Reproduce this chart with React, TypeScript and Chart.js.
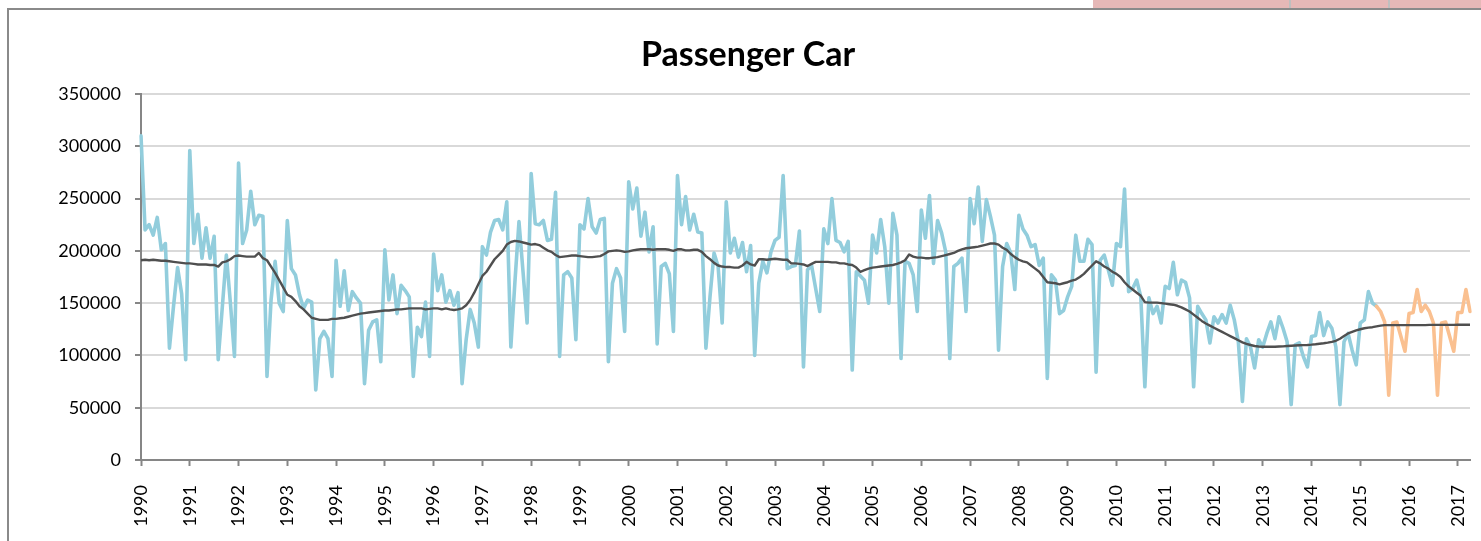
import React, { useEffect, useRef } from "react";
import { Chart, registerables } from "chart.js";

Chart.register(...registerables);

const chartTitle = "Passenger Car";

const yearLabels = [
  "1990", "1991", "1992", "1993", "1994", "1995", "1996", "1997", "1998", "1999",
  "2000", "2001", "2002", "2003", "2004", "2005", "2006", "2007", "2008", "2009",
  "2010", "2011", "2012", "2013", "2014", "2015", "2016", "2017",
];
const monthCodes = ["01", "02", "03", "04", "05", "06", "07", "08", "09", "10", "11", "12"];
const monthCount = 328; // Jan 1990 .. Apr 2017

const yTicks = [0, 50000, 100000, 150000, 200000, 250000, 300000, 350000];

// Monthly registrations (actual), Jan 1990 .. May 2015
const actualSales = [
  // 1990
  310000, 220000, 225000, 215000, 232000, 201000, 207000, 107000, 147000, 184000, 159000, 96000,
  // 1991
  296000, 207000, 235000, 193000, 222000, 193000, 214000, 96000, 146000, 196000, 150000, 99000,
  // 1992
  284000, 207000, 220000, 257000, 225000, 234000, 233000, 80000, 153000, 190000, 150000, 142000,
  // 1993
  229000, 183000, 177000, 158000, 145000, 153000, 151000, 67000, 116000, 123000, 116000, 80000,
  // 1994
  191000, 147000, 181000, 143000, 161000, 155000, 150000, 73000, 124000, 132000, 134000, 94000,
  // 1995
  201000, 153000, 177000, 140000, 167000, 162000, 156000, 80000, 127000, 118000, 151000, 99000,
  // 1996
  197000, 162000, 177000, 151000, 162000, 148000, 160000, 73000, 115000, 144000, 131000, 108000,
  // 1997
  204000, 196000, 218000, 229000, 230000, 220000, 247000, 108000, 170000, 228000, 180000, 131000,
  // 1998
  274000, 226000, 225000, 229000, 210000, 211000, 256000, 99000, 177000, 180000, 174000, 115000,
  // 1999
  225000, 221000, 250000, 223000, 217000, 230000, 231000, 94000, 169000, 183000, 174000, 123000,
  // 2000
  266000, 240000, 260000, 214000, 237000, 199000, 223000, 111000, 185000, 188000, 178000, 123000,
  // 2001
  272000, 225000, 252000, 220000, 235000, 218000, 217000, 107000, 156000, 198000, 185000, 131000,
  // 2002
  247000, 198000, 212000, 194000, 208000, 180000, 205000, 100000, 169000, 190000, 179000, 199000,
  // 2003
  210000, 213000, 272000, 183000, 185000, 186000, 219000, 89000, 182000, 186000, 164000, 142000,
  // 2004
  221000, 207000, 250000, 210000, 208000, 199000, 209000, 86000, 180000, 176000, 172000, 150000,
  // 2005
  215000, 198000, 230000, 204000, 150000, 236000, 215000, 97000, 190000, 188000, 177000, 142000,
  // 2006
  239000, 212000, 253000, 188000, 229000, 217000, 199000, 97000, 185000, 188000, 193000, 142000,
  // 2007
  250000, 226000, 261000, 209000, 249000, 233000, 215000, 105000, 185000, 207000, 198000, 163000,
  // 2008
  234000, 221000, 215000, 204000, 206000, 186000, 193000, 78000, 177000, 172000, 140000, 143000,
  // 2009
  156000, 166000, 215000, 190000, 190000, 211000, 206000, 84000, 191000, 196000, 182000, 167000,
  // 2010
  207000, 204000, 259000, 161000, 164000, 172000, 156000, 70000, 155000, 140000, 147000, 131000,
  // 2011
  166000, 164000, 189000, 158000, 172000, 170000, 155000, 70000, 147000, 140000, 134000, 112000,
  // 2012
  137000, 131000, 139000, 131000, 148000, 134000, 113000, 56000, 116000, 108000, 88000, 115000,
  // 2013
  108000, 121000, 132000, 116000, 137000, 126000, 113000, 53000, 110000, 112000, 99000, 89000,
  // 2014
  118000, 119000, 141000, 119000, 132000, 126000, 108000, 53000, 113000, 121000, 105000, 91000,
  // 2015
  131000, 134000, 161000, 150000, 147000,
];

// Forecast, May 2015 .. Apr 2017
const forecastStart = 304;
const forecastSales = [
  147000, 142000, 132000, 62000, 131000, 132000, 118000, 104000,
  140000, 141000, 163000, 142000, 148000, 142000, 131000, 62000, 131000, 132000, 118000, 104000,
  141000, 141000, 163000, 142000,
];

// 12-month trend, Jan 1990 .. Apr 2017
const trendLine = [
  // 1990
  191000, 191500, 191000, 191500, 191000, 190500, 190500, 190000, 189500, 189000, 188500, 188000,
  // 1991
  188000, 187500, 187000, 187000, 187000, 186500, 186500, 185000, 189000, 190000, 192000, 195000,
  // 1992
  195500, 195000, 194500, 194500, 194500, 198000, 193000, 191000, 185000, 179000, 172000, 165000,
  // 1993
  158000, 156000, 152000, 147000, 144000, 140000, 136000, 135000, 134000, 134000, 134000, 135000,
  // 1994
  135000, 135500, 136000, 137000, 138000, 139000, 140000, 140500, 141000, 141500, 142000, 142500,
  // 1995
  143000, 143000, 143500, 144000, 144000, 144500, 145000, 145000, 145000, 145000, 144000, 144500,
  // 1996
  145000, 145000, 144000, 145000, 144000, 143500, 144000, 145000, 148000, 153000, 160000, 168000,
  // 1997
  176000, 180000, 186000, 192000, 196000, 200000, 206000, 208500, 209500, 209000, 208000, 207000,
  // 1998
  206000, 206500, 205500, 203000, 200500, 199000, 196000, 194000, 194500, 195000, 195500, 195500,
  // 1999
  195000, 194500, 194000, 194000, 194500, 195000, 197000, 199500, 200000, 200500, 200000, 199000,
  // 2000
  199500, 200500, 201000, 201500, 201500, 201500, 201000, 201500, 201500, 201500, 201000, 200000,
  // 2001
  201500, 201500, 200500, 200500, 201000, 201000, 199000, 195000, 192000, 188500, 186000, 185000,
  // 2002
  184500, 184500, 184000, 184000, 186000, 189500, 187000, 186000, 192000, 192000, 191500, 192000,
  // 2003
  192500, 192000, 191500, 191500, 188000, 188000, 187500, 187000, 185500, 187500, 189500, 189500,
  // 2004
  189500, 189500, 189000, 189000, 188000, 188000, 187000, 186500, 184000, 180000, 181500, 183000,
  // 2005
  184000, 184500, 185000, 185500, 186000, 186500, 187500, 189000, 191000, 196500, 194500, 193500,
  // 2006
  193500, 193000, 193000, 193500, 194000, 195000, 196000, 197000, 198000, 200000, 201500, 202500,
  // 2007
  203000, 203500, 204000, 205000, 206000, 207000, 207000, 206000, 203000, 201000, 197000, 194000,
  // 2008
  191500, 190000, 189000, 186000, 183000, 180000, 175000, 170000, 169500, 169000, 168000, 169000,
  // 2009
  170000, 171500, 172500, 175000, 178000, 182000, 186000, 190000, 188000, 185000, 183000, 180000,
  // 2010
  178000, 175000, 170000, 166000, 163000, 160000, 157000, 151000, 150500, 150500, 150500, 150000,
  // 2011
  149500, 149000, 148500, 147500, 146000, 144000, 142000, 139000, 136000, 133000, 130500, 128500,
  // 2012
  126500, 124500, 122500, 120500, 118500, 116500, 114500, 112500, 111000, 110000, 109000, 108500,
  // 2013
  108300, 108300, 108300, 108300, 108500, 108700, 109000, 109300, 109500, 109700, 109900, 110000,
  // 2014
  110300, 110700, 111200, 111600, 112200, 113000, 114000, 116000, 118500, 121000, 122500, 124000,
  // 2015
  125000, 126000, 126600, 127000, 127800, 128500, 129000, 129000, 129000, 129000, 129000, 129000,
  // 2016
  129000, 129000, 129000, 129000, 129000, 129200, 129200, 129200, 129200, 129200, 129200, 129200,
  // 2017
  129300, 129300, 129300, 129300,
];

const W = 1481;
const H = 541;
const CW = 1496; // canvas is wider than the view so the title centres like the original frame
const PAD_SIDE = CW - 1470;

export default function App() {
  const canvasRef = useRef<HTMLCanvasElement | null>(null);

  useEffect(() => {
    document.body.style.margin = "0";
    document.body.style.overflow = "hidden";
    const canvas = canvasRef.current;
    if (!canvas) return;

    const categories = yearLabels
      .flatMap((y) => monthCodes.map((m) => `${y}-${m}`))
      .slice(0, monthCount);

    const actualData = categories.map((_, i) => (i < actualSales.length ? actualSales[i] : null));
    const forecastData = categories.map((_, i) =>
      i >= forecastStart && i - forecastStart < forecastSales.length ? forecastSales[i - forecastStart] : null
    );

    const chart = new Chart(canvas, {
      type: "line",
      data: {
        labels: categories,
        datasets: [
          {
            label: "Trend",
            data: trendLine,
            borderColor: "#4F4F4F",
            borderWidth: 2.4,
            pointRadius: 0,
            tension: 0,
            borderJoinStyle: "round",
            order: 0,
          },
          {
            label: "Forecast",
            data: forecastData,
            borderColor: "#FAC090",
            borderWidth: 3.6,
            pointRadius: 0,
            tension: 0,
            borderJoinStyle: "round",
            borderCapStyle: "round",
            spanGaps: false,
            order: 1,
          },
          {
            label: "Passenger Car",
            data: actualData,
            borderColor: "#92CDDC",
            borderWidth: 3.6,
            pointRadius: 0,
            tension: 0,
            borderJoinStyle: "round",
            borderCapStyle: "round",
            spanGaps: false,
            order: 2,
          },
        ],
      },
      options: {
        responsive: false,
        animation: false,
        events: [],
        layout: { padding: { left: PAD_SIDE, right: PAD_SIDE, top: 0, bottom: 0 } },
        plugins: {
          legend: { display: false },
          tooltip: { enabled: false },
          title: {
            display: true,
            text: chartTitle,
            color: "#000000",
            font: { family: "Lato", size: 34, weight: "bold", lineHeight: 1.2 },
            padding: { top: 35, bottom: 18.2 },
          },
        },
        scales: {
          x: {
            type: "category",
            offset: false,
            grid: {
              drawOnChartArea: false,
              drawTicks: true,
              tickLength: 6,
              tickWidth: 2,
              tickColor: (ctx: any) => (ctx.index % 12 === 0 ? "#868686" : "rgba(0,0,0,0)"),
            },
            border: { display: true, color: "#868686", width: 2 },
            ticks: {
              autoSkip: false,
              minRotation: 90,
              maxRotation: 90,
              padding: 19,
              color: "#000000",
              font: { family: "Lato", size: 18 },
              callback: (_v: any, index: number) => (index % 12 === 0 ? yearLabels[index / 12] : ""),
            },
            afterFit: (scale: any) => {
              scale.height = 81;
              scale.paddingLeft = 0;
              scale.paddingRight = 0;
            },
          },
          y: {
            type: "linear",
            min: yTicks[0],
            max: yTicks[yTicks.length - 1],
            grid: {
              color: "#D9D9D9",
              lineWidth: 2,
              drawTicks: true,
              tickLength: 6,
              tickWidth: 2,
              tickColor: "#868686",
            },
            border: { display: true, color: "#868686", width: 2 },
            ticks: {
              stepSize: 50000,
              padding: 14,
              color: "#000000",
              font: { family: "Lato", size: 18 },
              callback: (v: any) => String(v),
            },
            afterBuildTicks: (scale: any) => {
              scale.ticks = yTicks.map((v) => ({ value: v }));
            },
            afterFit: (scale: any) => {
              scale.width = 141 - PAD_SIDE;
            },
          },
        },
      },
    });

    return () => chart.destroy();
  }, []);

  return (
    <div style={{ position: "relative", width: W, height: H, overflow: "hidden", background: "#ffffff" }}>
      <div style={{ position: "absolute", left: 1093, top: 0, width: W - 1093, height: 8, background: "#E6B8B7" }} />
      <div style={{ position: "absolute", left: 1289, top: 0, width: 2, height: 8, background: "#BFBFBF" }} />
      <div style={{ position: "absolute", left: 1388, top: 0, width: 2, height: 8, background: "#BFBFBF" }} />
      <div
        style={{
          position: "absolute",
          left: 7,
          top: 8,
          width: W + 20,
          height: H + 20,
          borderLeft: "2px solid #8A8A8A",
          borderTop: "2px solid #8A8A8A",
          boxSizing: "border-box",
        }}
      />
      <canvas
        ref={canvasRef}
        width={CW}
        height={H}
        style={{ position: "absolute", left: 0, top: 0, width: CW, height: H, display: "block" }}
      />
    </div>
  );
}
